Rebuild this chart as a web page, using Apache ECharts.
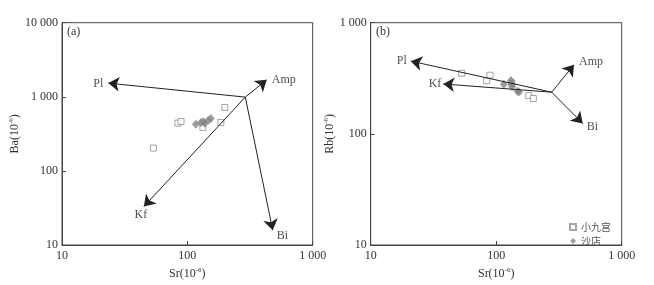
<!DOCTYPE html>
<html><head><meta charset="utf-8">
<script src="https://cdn.jsdelivr.net/npm/echarts@6/dist/echarts.min.js"></script>
<style>html,body{margin:0;padding:0;background:#fff}#c{width:654px;height:285px}</style>
</head><body><div id="c"></div>
<script>
// ---- Panel (a): Sr vs Ba ----
const xjgSrA = [53.6, 84, 89, 133, 185, 199];
const xjgBaA = [203, 441, 463, 385, 450, 718];
const sdSrA = [117, 128.5, 134, 138, 147, 154];
const sdBaA = [427, 450, 459, 440, 482, 508];
// ---- Panel (b): Sr vs Rb ----
const xjgSrB = [53.1, 84, 89.2, 133, 181.6, 197.7];
const xjgRbB = [351, 300, 337, 285, 221, 208];
const sdSrB = [115, 131, 133, 134, 148, 152];
const sdRbB = [279, 302, 282, 265, 242, 238];
// ---- Mineral fractionation vectors ----
const vecNames = ['Pl', 'Amp', 'Kf', 'Bi'];
const originA = [290, 990];
const tipSrA = [23.4, 430, 45, 480];
const tipBaA = [1530, 1693, 33, 15.8];
const originB = [277, 237];
const tipSrB = [20.9, 417, 37.9, 489];
const tipRbB = [451, 419, 281, 124];
// ---- Axes ----
const xRange = [10, 1000];
const yRangeA = [10, 10000];
const yRangeB = [10, 1000];
const seriesNames = ['小九宫', '沙店'];

const serif = 'Liberation Serif';
const axisColor = '#444';
function fmt(v) {
  const s = String(Math.round(v));
  return s.length > 3 ? s.slice(0, s.length - 3) + ' ' + s.slice(s.length - 3) : s;
}
const nameRich = {
  n: { fontFamily: serif, fontSize: 12, color: '#333', lineHeight: 14 },
  s: { fontFamily: serif, fontSize: 7, color: '#333', verticalAlign: 'top', lineHeight: 14 }
};
function mkX(gi) {
  return {
    type: 'log', logBase: 10, gridIndex: gi, min: xRange[0], max: xRange[1],
    name: '{n|Sr(10}{s|-6}{n|)}', nameLocation: 'middle', nameGap: 22,
    nameTextStyle: { rich: nameRich },
    axisLine: { lineStyle: { color: axisColor, width: 1 } },
    axisTick: { inside: true, length: 4, lineStyle: { color: axisColor } },
    minorTick: { show: false }, splitLine: { show: false },
    axisLabel: { fontFamily: serif, fontSize: 12, color: '#333', margin: 5, formatter: fmt }
  };
}
function mkY(gi, rng, nm, gap) {
  return {
    type: 'log', logBase: 10, gridIndex: gi, min: rng[0], max: rng[1],
    name: '{n|' + nm + '(10}{s|-6}{n|)}', nameLocation: 'middle', nameGap: gap,
    nameTextStyle: { rich: nameRich },
    axisLine: { lineStyle: { color: axisColor, width: 1 } },
    axisTick: { inside: true, length: 4, lineStyle: { color: axisColor } },
    minorTick: { show: false }, splitLine: { show: false },
    axisLabel: { fontFamily: serif, fontSize: 12, color: '#333', margin: 4, formatter: fmt }
  };
}
const zip = (a, b) => a.map((v, i) => [v, b[i]]);
const sqStyle = { color: '#fff', borderColor: '#8f8f8f', borderWidth: 1 };
const dmStyle = { color: '#858585' };

// label placement per vector (style only)
const labA = {
  Pl: { position: 'left', distance: 5, offset: [0, 1] },
  Amp: { position: 'right', distance: 5, offset: [0, 0] },
  Kf: { position: 'bottom', distance: 2, offset: [-3, 0] },
  Bi: { position: 'right', distance: 4, offset: [0, 6] }
};
const labB = {
  Pl: { position: 'left', distance: 4, offset: [0, 0] },
  Amp: { position: 'right', distance: 5, offset: [0, -3] },
  Kf: { position: 'left', distance: 2, offset: [0, 0] },
  Bi: { position: 'right', distance: 4, offset: [0, 3] }
};
function vecSeries(gi, origin, tx, ty, lab) {
  return [{
    type: 'lines', coordinateSystem: 'cartesian2d', xAxisIndex: gi, yAxisIndex: gi,
    symbol: ['none', 'arrow'], symbolSize: 11, silent: true, z: 5,
    lineStyle: { color: '#222', width: 1, opacity: 1 },
    data: tx.map((x, i) => ({ coords: [origin, [x, ty[i]]] }))
  }, {
    type: 'scatter', xAxisIndex: gi, yAxisIndex: gi, symbolSize: 0, silent: true,
    data: tx.map((x, i) => ({
      value: [x, ty[i]], name: vecNames[i],
      label: Object.assign({ show: true, formatter: '{b}', fontFamily: serif, fontSize: 12, color: '#222' }, lab[vecNames[i]])
    }))
  }];
}

const option = {
  animation: false,
  backgroundColor: '#fff',
  grid: [
    { left: 62, top: 22.7, width: 250.7, height: 225.6, show: true, borderColor: axisColor, borderWidth: 1, backgroundColor: 'transparent' },
    { left: 370.7, top: 22.7, width: 251, height: 225.6, show: true, borderColor: axisColor, borderWidth: 1, backgroundColor: 'transparent' }
  ],
  xAxis: [mkX(0), mkX(1)],
  yAxis: [mkY(0, yRangeA, 'Ba', 37), mkY(1, yRangeB, 'Rb', 31)],
  legend: {
    data: seriesNames, orient: 'vertical', right: 38, top: 217,
    itemWidth: 6, itemHeight: 6, itemGap: 4,
    textStyle: { fontFamily: 'Noto Sans CJK SC', fontSize: 10, color: '#555' }
  },
  graphic: [
    { type: 'text', left: 67, top: 26, style: { text: '(a)', font: '12px "Liberation Serif"', fill: '#333' } },
    { type: 'text', left: 376, top: 26, style: { text: '(b)', font: '12px "Liberation Serif"', fill: '#333' } }
  ],
  series: [
    { name: seriesNames[0], type: 'scatter', xAxisIndex: 0, yAxisIndex: 0, symbol: 'rect', symbolSize: 6, itemStyle: sqStyle, data: zip(xjgSrA, xjgBaA) },
    { name: seriesNames[1], type: 'scatter', xAxisIndex: 0, yAxisIndex: 0, symbol: 'diamond', symbolSize: [8, 9], itemStyle: dmStyle, data: zip(sdSrA, sdBaA) },
    { name: seriesNames[0], type: 'scatter', xAxisIndex: 1, yAxisIndex: 1, symbol: 'rect', symbolSize: 6, itemStyle: sqStyle, data: zip(xjgSrB, xjgRbB) },
    { name: seriesNames[1], type: 'scatter', xAxisIndex: 1, yAxisIndex: 1, symbol: 'diamond', symbolSize: [8, 9], itemStyle: dmStyle, data: zip(sdSrB, sdRbB) }
  ].concat(vecSeries(0, originA, tipSrA, tipBaA, labA), vecSeries(1, originB, tipSrB, tipRbB, labB))
};
echarts.init(document.getElementById('c'), null, { renderer: 'canvas' }).setOption(option);
</script></body></html>
